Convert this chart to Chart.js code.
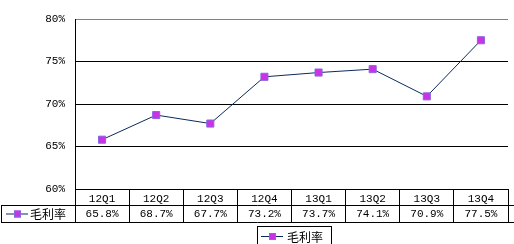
<!DOCTYPE html>
<html>
<head>
<meta charset="utf-8">
<script src="https://cdn.jsdelivr.net/npm/chart.js@4/dist/chart.umd.min.js"></script>
<style>
  html, body { margin: 0; padding: 0; background: #fff; }
</style>
</head>
<body>
<canvas id="marginChart" width="514" height="244"></canvas>
<script>
const quarters = ['12Q1', '12Q2', '12Q3', '12Q4', '13Q1', '13Q2', '13Q3', '13Q4'];
const grossMargin = [65.8, 68.7, 67.7, 73.2, 73.7, 74.1, 70.9, 77.5];
const seriesName = '毛利率';

const numFont = '11px "Liberation Mono", monospace';
const cjkFont = '12px "Noto Sans CJK SC", sans-serif';
const lineColor = '#0a2a5c';
const markFill = '#c833e6';
const markEdge = '#8a66e0';

// Kleine Legende: Linie mit Quadrat
function drawKey(ctx, x, y) {
    ctx.strokeStyle = lineColor;
    ctx.lineWidth = 1;
    ctx.beginPath();
    ctx.moveTo(x, y + 0.5);
    ctx.lineTo(x + 22, y + 0.5);
    ctx.stroke();
    ctx.fillStyle = markFill;
    ctx.fillRect(x + 8, y - 3, 7, 7);
    ctx.strokeStyle = markEdge;
    ctx.strokeRect(x + 8.5, y - 2.5, 6, 6);
}

// Datentabelle unter der x-Achse + Legende
const dataTable = {
    id: 'dataTable',
    afterDraw(chart) {
        const ctx = chart.ctx;
        const x = chart.scales.x;
        const rowTop = x.top + 16;
        const rowBottom = x.top + 33;
        ctx.save();
        ctx.strokeStyle = '#000';
        ctx.lineWidth = 1;
        ctx.beginPath();
        ctx.moveTo(1, rowTop + 0.5);
        ctx.lineTo(chart.width, rowTop + 0.5);
        ctx.moveTo(1, rowBottom + 0.5);
        ctx.lineTo(chart.width, rowBottom + 0.5);
        ctx.moveTo(1.5, rowTop);
        ctx.lineTo(1.5, rowBottom);
        ctx.stroke();

        ctx.fillStyle = '#000';
        ctx.font = numFont;
        ctx.textAlign = 'center';
        ctx.textBaseline = 'middle';
        grossMargin.forEach((v, i) => {
            ctx.fillText(v.toFixed(1) + '%', x.getPixelForValue(i), (rowTop + rowBottom) / 2 + 1);
        });

        drawKey(ctx, 6, (rowTop + rowBottom) / 2);
        ctx.fillStyle = '#000';
        ctx.font = cjkFont;
        ctx.textAlign = 'left';
        ctx.fillText(seriesName, 30, (rowTop + rowBottom) / 2 + 1);

        // Legende unten
        ctx.strokeStyle = '#000';
        ctx.strokeRect(257.5, 226.5, 74, 20);
        drawKey(ctx, 261, 236);
        ctx.fillStyle = '#000';
        ctx.fillText(seriesName, 287, 237);
        ctx.restore();
    }
};

new Chart(document.getElementById('marginChart'), {
    type: 'line',
    data: {
        labels: quarters,
        datasets: [{
            label: seriesName,
            data: grossMargin,
            borderColor: lineColor,
            borderWidth: 1,
            tension: 0,
            pointStyle: 'rect',
            pointRadius: 5,
            pointBackgroundColor: markFill,
            pointBorderColor: markEdge,
            pointBorderWidth: 1
        }]
    },
    options: {
        responsive: false,
        animation: false,
        layout: { padding: { top: 19, right: 0, left: 0, bottom: 0 } },
        plugins: {
            legend: { display: false },
            tooltip: { enabled: false }
        },
        scales: {
            x: {
                offset: true,
                afterFit: s => { s.height = 55; },
                grid: {
                    offset: true,
                    drawOnChartArea: false,
                    drawTicks: true,
                    tickLength: 33,
                    color: '#000'
                },
                border: { display: true, color: '#000' },
                ticks: {
                    color: '#000',
                    font: { family: '"Liberation Mono", monospace', size: 11 },
                    padding: -30,
                    maxRotation: 0
                }
            },
            y: {
                min: 60,
                max: 80,
                afterFit: s => { s.width = 75; },
                grid: {
                    drawTicks: false,
                    color: c => (c.tick && c.tick.value === 80) ? '#808080' : '#000'
                },
                border: { display: true, color: '#000' },
                ticks: {
                    stepSize: 5,
                    padding: 10,
                    color: '#000',
                    font: { family: '"Liberation Mono", monospace', size: 11 },
                    callback: v => v + '%'
                }
            }
        }
    },
    plugins: [dataTable]
});
</script>
</body>
</html>
